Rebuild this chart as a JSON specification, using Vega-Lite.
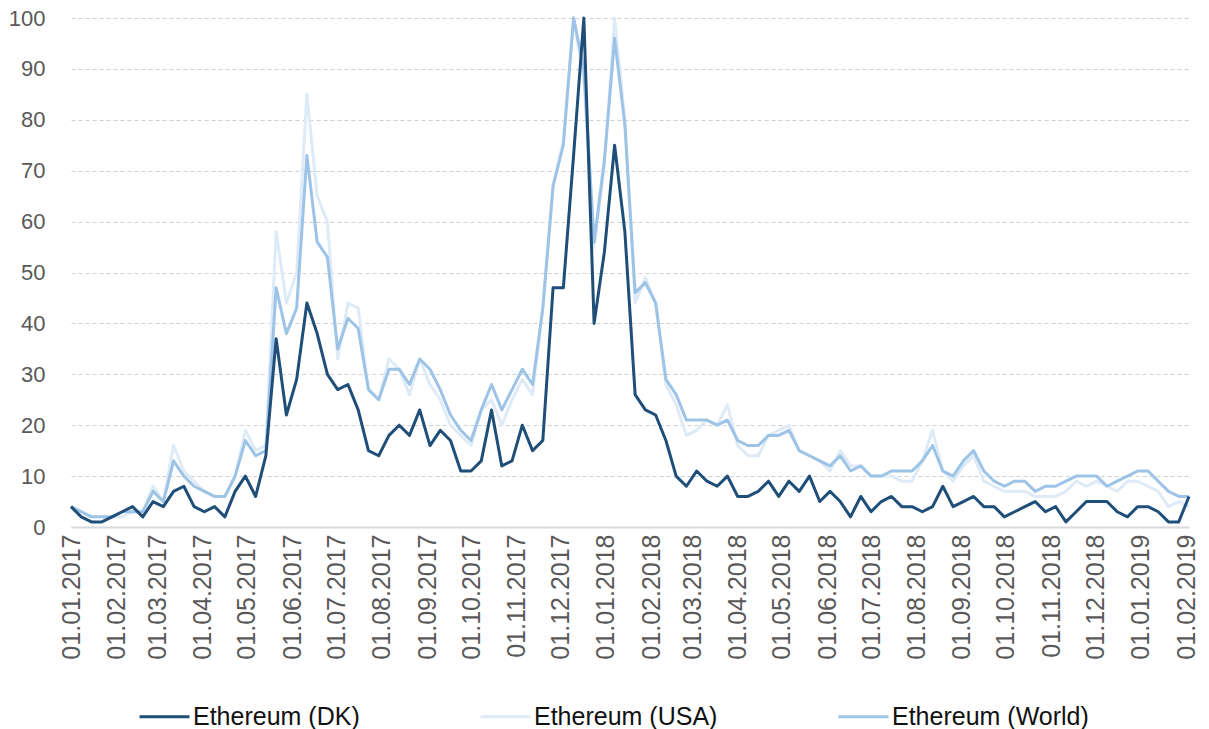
{
  "$schema": "https://vega.github.io/schema/vega-lite/v6.json",
  "width": 1118,
  "height": 509,
  "autosize": {"type": "none"},
  "padding": {"left": 71, "top": 18, "right": 20, "bottom": 202},
  "background": "white",
  "config": {
    "view": {"stroke": null},
    "font": "Liberation Sans"
  },
  "data": {
    "format": {"parse": {"date": "date:'%Y-%m-%d'"}},
    "values": [
      {"date": "2017-01-01", "DK": 4, "USA": 4, "World": 4},
      {"date": "2017-01-08", "DK": 2, "USA": 3, "World": 3},
      {"date": "2017-01-15", "DK": 1, "USA": 2, "World": 2},
      {"date": "2017-01-22", "DK": 1, "USA": 2, "World": 2},
      {"date": "2017-01-29", "DK": 2, "USA": 2, "World": 2},
      {"date": "2017-02-05", "DK": 3, "USA": 2, "World": 3},
      {"date": "2017-02-12", "DK": 4, "USA": 3, "World": 3},
      {"date": "2017-02-19", "DK": 2, "USA": 3, "World": 3},
      {"date": "2017-02-26", "DK": 5, "USA": 8, "World": 7},
      {"date": "2017-03-05", "DK": 4, "USA": 5, "World": 5},
      {"date": "2017-03-12", "DK": 7, "USA": 16, "World": 13},
      {"date": "2017-03-19", "DK": 8, "USA": 11, "World": 10},
      {"date": "2017-03-26", "DK": 4, "USA": 9, "World": 8},
      {"date": "2017-04-02", "DK": 3, "USA": 7, "World": 7},
      {"date": "2017-04-09", "DK": 4, "USA": 6, "World": 6},
      {"date": "2017-04-16", "DK": 2, "USA": 6, "World": 6},
      {"date": "2017-04-23", "DK": 7, "USA": 10, "World": 10},
      {"date": "2017-04-30", "DK": 10, "USA": 19, "World": 17},
      {"date": "2017-05-07", "DK": 6, "USA": 15, "World": 14},
      {"date": "2017-05-14", "DK": 14, "USA": 16, "World": 15},
      {"date": "2017-05-21", "DK": 37, "USA": 58, "World": 47},
      {"date": "2017-05-28", "DK": 22, "USA": 44, "World": 38},
      {"date": "2017-06-04", "DK": 29, "USA": 50, "World": 43},
      {"date": "2017-06-11", "DK": 44, "USA": 85, "World": 73},
      {"date": "2017-06-18", "DK": 38, "USA": 65, "World": 56},
      {"date": "2017-06-25", "DK": 30, "USA": 60, "World": 53},
      {"date": "2017-07-02", "DK": 27, "USA": 33, "World": 35},
      {"date": "2017-07-09", "DK": 28, "USA": 44, "World": 41},
      {"date": "2017-07-16", "DK": 23, "USA": 43, "World": 39},
      {"date": "2017-07-23", "DK": 15, "USA": 27, "World": 27},
      {"date": "2017-07-30", "DK": 14, "USA": 25, "World": 25},
      {"date": "2017-08-06", "DK": 18, "USA": 33, "World": 31},
      {"date": "2017-08-13", "DK": 20, "USA": 31, "World": 31},
      {"date": "2017-08-20", "DK": 18, "USA": 26, "World": 28},
      {"date": "2017-08-27", "DK": 23, "USA": 33, "World": 33},
      {"date": "2017-09-03", "DK": 16, "USA": 28, "World": 31},
      {"date": "2017-09-10", "DK": 19, "USA": 25, "World": 27},
      {"date": "2017-09-17", "DK": 17, "USA": 20, "World": 22},
      {"date": "2017-09-24", "DK": 11, "USA": 18, "World": 19},
      {"date": "2017-10-01", "DK": 11, "USA": 16, "World": 17},
      {"date": "2017-10-08", "DK": 13, "USA": 23, "World": 23},
      {"date": "2017-10-15", "DK": 23, "USA": 25, "World": 28},
      {"date": "2017-10-22", "DK": 12, "USA": 20, "World": 23},
      {"date": "2017-10-29", "DK": 13, "USA": 25, "World": 27},
      {"date": "2017-11-05", "DK": 20, "USA": 29, "World": 31},
      {"date": "2017-11-12", "DK": 15, "USA": 26, "World": 28},
      {"date": "2017-11-19", "DK": 17, "USA": 43, "World": 43},
      {"date": "2017-11-26", "DK": 47, "USA": 67, "World": 67},
      {"date": "2017-12-03", "DK": 47, "USA": 76, "World": 75},
      {"date": "2017-12-10", "DK": 73, "USA": 100, "World": 100},
      {"date": "2017-12-17", "DK": 100, "USA": 88, "World": 90},
      {"date": "2017-12-24", "DK": 40, "USA": 55, "World": 56},
      {"date": "2017-12-31", "DK": 54, "USA": 71, "World": 72},
      {"date": "2018-01-07", "DK": 75, "USA": 100, "World": 96},
      {"date": "2018-01-14", "DK": 58, "USA": 80, "World": 79},
      {"date": "2018-01-21", "DK": 26, "USA": 44, "World": 46},
      {"date": "2018-01-28", "DK": 23, "USA": 49, "World": 48},
      {"date": "2018-02-04", "DK": 22, "USA": 44, "World": 44},
      {"date": "2018-02-11", "DK": 17, "USA": 28, "World": 29},
      {"date": "2018-02-18", "DK": 10, "USA": 24, "World": 26},
      {"date": "2018-02-25", "DK": 8, "USA": 18, "World": 21},
      {"date": "2018-03-04", "DK": 11, "USA": 19, "World": 21},
      {"date": "2018-03-11", "DK": 9, "USA": 21, "World": 21},
      {"date": "2018-03-18", "DK": 8, "USA": 20, "World": 20},
      {"date": "2018-03-25", "DK": 10, "USA": 24, "World": 21},
      {"date": "2018-04-01", "DK": 6, "USA": 16, "World": 17},
      {"date": "2018-04-08", "DK": 6, "USA": 14, "World": 16},
      {"date": "2018-04-15", "DK": 7, "USA": 14, "World": 16},
      {"date": "2018-04-22", "DK": 9, "USA": 18, "World": 18},
      {"date": "2018-04-29", "DK": 6, "USA": 19, "World": 18},
      {"date": "2018-05-06", "DK": 9, "USA": 20, "World": 19},
      {"date": "2018-05-13", "DK": 7, "USA": 15, "World": 15},
      {"date": "2018-05-20", "DK": 10, "USA": 14, "World": 14},
      {"date": "2018-05-27", "DK": 5, "USA": 13, "World": 13},
      {"date": "2018-06-03", "DK": 7, "USA": 11, "World": 12},
      {"date": "2018-06-10", "DK": 5, "USA": 15, "World": 14},
      {"date": "2018-06-17", "DK": 2, "USA": 12, "World": 11},
      {"date": "2018-06-24", "DK": 6, "USA": 12, "World": 12},
      {"date": "2018-07-01", "DK": 3, "USA": 10, "World": 10},
      {"date": "2018-07-08", "DK": 5, "USA": 10, "World": 10},
      {"date": "2018-07-15", "DK": 6, "USA": 10, "World": 11},
      {"date": "2018-07-22", "DK": 4, "USA": 9, "World": 11},
      {"date": "2018-07-29", "DK": 4, "USA": 9, "World": 11},
      {"date": "2018-08-05", "DK": 3, "USA": 13, "World": 13},
      {"date": "2018-08-12", "DK": 4, "USA": 19, "World": 16},
      {"date": "2018-08-19", "DK": 8, "USA": 11, "World": 11},
      {"date": "2018-08-26", "DK": 4, "USA": 9, "World": 10},
      {"date": "2018-09-02", "DK": 5, "USA": 12, "World": 13},
      {"date": "2018-09-09", "DK": 6, "USA": 14, "World": 15},
      {"date": "2018-09-16", "DK": 4, "USA": 9, "World": 11},
      {"date": "2018-09-23", "DK": 4, "USA": 8, "World": 9},
      {"date": "2018-09-30", "DK": 2, "USA": 7, "World": 8},
      {"date": "2018-10-07", "DK": 3, "USA": 7, "World": 9},
      {"date": "2018-10-14", "DK": 4, "USA": 7, "World": 9},
      {"date": "2018-10-21", "DK": 5, "USA": 6, "World": 7},
      {"date": "2018-10-28", "DK": 3, "USA": 6, "World": 8},
      {"date": "2018-11-04", "DK": 4, "USA": 6, "World": 8},
      {"date": "2018-11-11", "DK": 1, "USA": 7, "World": 9},
      {"date": "2018-11-18", "DK": 3, "USA": 9, "World": 10},
      {"date": "2018-11-25", "DK": 5, "USA": 8, "World": 10},
      {"date": "2018-12-02", "DK": 5, "USA": 9, "World": 10},
      {"date": "2018-12-09", "DK": 5, "USA": 8, "World": 8},
      {"date": "2018-12-16", "DK": 3, "USA": 7, "World": 9},
      {"date": "2018-12-23", "DK": 2, "USA": 9, "World": 10},
      {"date": "2018-12-30", "DK": 4, "USA": 9, "World": 11},
      {"date": "2019-01-06", "DK": 4, "USA": 8, "World": 11},
      {"date": "2019-01-13", "DK": 3, "USA": 7, "World": 9},
      {"date": "2019-01-20", "DK": 1, "USA": 4, "World": 7},
      {"date": "2019-01-27", "DK": 1, "USA": 5, "World": 6},
      {"date": "2019-02-03", "DK": 6, "USA": 4, "World": 6}
    ]
  },
  "transform": [
    {"fold": ["USA", "World", "DK"], "as": ["series", "value"]}
  ],
  "mark": {"type": "line", "strokeWidth": 3, "strokeJoin": "round", "clip": false},
  "encoding": {
    "x": {
      "field": "date",
      "type": "temporal",
      "scale": {"domain": [{"year": 2017, "month": 1, "date": 1}, {"year": 2019, "month": 2, "date": 3}]},
      "axis": {
        "title": null,
        "format": "%d.%m.%Y",
        "tickCount": {"interval": "month", "step": 1},
        "labelAngle": -90,
        "labelFontSize": 25,
        "labelColor": "#595959",
        "labelPadding": 7,
        "labelOverlap": false,
        "labelFlush": false,
        "ticks": false,
        "grid": false,
        "domainColor": "#d9d9d9",
        "domainWidth": 2
      }
    },
    "y": {
      "field": "value",
      "type": "quantitative",
      "scale": {"domain": [0, 100], "nice": false},
      "axis": {
        "title": null,
        "values": [0, 10, 20, 30, 40, 50, 60, 70, 80, 90, 100],
        "labelFontSize": 22,
        "labelColor": "#595959",
        "labelPadding": 26,
        "ticks": false,
        "domain": false,
        "grid": true,
        "gridColor": "#d0d0d0",
        "gridDash": [4, 3],
        "gridWidth": 1
      }
    },
    "color": {
      "field": "series",
      "type": "nominal",
      "scale": {"domain": ["DK", "USA", "World"], "range": ["#1f4e79", "#deebf7", "#9dc3e6"]},
      "legend": {
        "title": null,
        "orient": "none",
        "direction": "horizontal",
        "legendX": 67,
        "legendY": 672,
        "labelExpr": "'Ethereum (' + datum.label + ')'",
        "labelLimit": 400,
        "symbolType": "stroke",
        "symbolSize": 2500,
        "symbolStrokeWidth": 3,
        "labelFontSize": 25,
        "labelColor": "#111111",
        "labelOffset": 2,
        "columnPadding": 114,
        "padding": 0
      }
    }
  }
}
